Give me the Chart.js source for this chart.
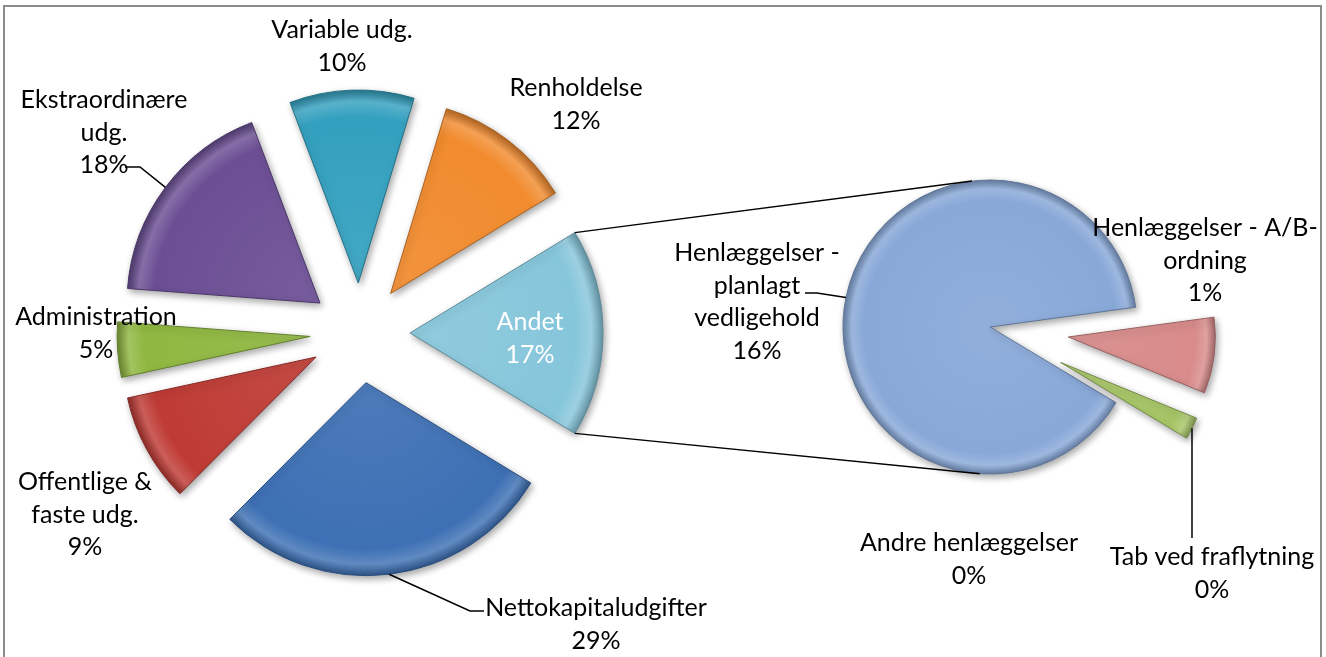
<!DOCTYPE html>
<html>
<head>
<meta charset="utf-8">
<script src="https://cdn.jsdelivr.net/npm/chart.js@4.4.1/dist/chart.umd.min.js"></script>
<style>
  html, body { margin: 0; padding: 0; background: #fff; }
  #wrap { position: relative; width: 1326px; height: 657px; }
  #wrap canvas { position: absolute; left: 0; top: 0; }
</style>
</head>
<body>
<div id="wrap">
  <canvas id="mainPie" width="1326" height="657"></canvas>
  <canvas id="subPie" width="1326" height="657"></canvas>
</div>
<script>
// Main pie (clockwise from the "Andet" slice, which is split out into the second pie)
const mainCategories = ['Andet', 'Nettokapitaludgifter', 'Offentlige & faste udg.', 'Administration',
  'Ekstraordinære udg.', 'Variable udg.', 'Renholdelse'];
const mainValues = [17.37, 28.7, 9.1, 4.6, 18.0, 10.4, 11.6];
const mainColors = ['#86C6DB', '#3D70B4', '#BF3B35', '#8FB740', '#6B4E94', '#33A0BF', '#F18B2E'];

// Second pie: breakdown of "Andet"
const subCategories = ['Henlæggelser - planlagt vedligehold', 'Henlæggelser - A/B-ordning',
  'Andre henlæggelser', 'Tab ved fraflytning'];
const subValues = [15.5, 1.45, 0, 0.42];
const subColors = ['#88A8D8', '#D88B8A', '#C2D69B', '#A6C566'];

const FONT = '25px Lato';
const LINE_H = 32.5;
const grandTotal = mainValues.reduce((a, b) => a + b, 0);

// label placement (text centre x, first line y, wrap width, colour)
const mainLabelLayout = [
  { x: 530, y: 322, w: 200, color: '#ffffff' },
  { x: 596, y: 608, w: 300, color: '#000', leader: [[470, 611], [484, 611]] },
  { x: 85, y: 482, w: 155, color: '#000' },
  { x: 96, y: 317, w: 230, color: '#000' },
  { x: 104, y: 100, w: 195, color: '#000', leader: [[140, 167], [125, 167]] },
  { x: 342, y: 30, w: 230, color: '#000' },
  { x: 576, y: 88, w: 230, color: '#000' }
];
const subLabelLayout = [
  { x: 757, y: 253, w: 175, color: '#000', leader: [[817, 293], [805, 293]] },
  { x: 1205, y: 228, w: 230, color: '#000' },
  { x: 969, y: 543, w: 270, color: '#000' },
  { x: 1212, y: 557, w: 270, color: '#000', leader: [[1192, 538]] }
];

function mix(hex, target, t) {
  const n = parseInt(hex.slice(1), 16);
  const c = [(n >> 16) & 255, (n >> 8) & 255, n & 255];
  const out = c.map(v => Math.round(v + (target - v) * t));
  return `rgb(${out[0]}, ${out[1]}, ${out[2]})`;
}

// moves each slice out along its middle angle, and gives it a bevel-like shading
const explodePlugin = {
  id: 'explode',
  afterDatasetUpdate(chart, args, opts) {
    const shift = opts.shift || [];
    const colors = chart.data.datasets[0].backgroundColor;
    const ctx = chart.ctx;
    args.meta.data.forEach((arc, i) => {
      const d = shift[i] || 0;
      const mid = (arc.startAngle + arc.endAngle) / 2;
      arc.x += Math.cos(mid) * d;
      arc.y += Math.sin(mid) * d;
      const base = colors[i];
      const g = ctx.createRadialGradient(arc.x, arc.y, 0, arc.x, arc.y, arc.outerRadius);
      g.addColorStop(0, mix(base, 255, 0.08));
      g.addColorStop(0.86, base);
      g.addColorStop(0.94, mix(base, 255, 0.18));
      g.addColorStop(1, mix(base, 0, 0.25));
      arc.options = Object.assign({}, arc.options, {
        backgroundColor: g,
        borderColor: mix(base, 0, 0.3)
      });
    });
  }
};

const shadowPlugin = {
  id: 'softShadow',
  beforeDatasetsDraw(chart) {
    const ctx = chart.ctx;
    ctx.save();
    ctx.shadowColor = 'rgba(0,0,0,0.35)';
    ctx.shadowBlur = 7;
    ctx.shadowOffsetX = 2;
    ctx.shadowOffsetY = 3;
  },
  afterDatasetsDraw(chart) {
    chart.ctx.restore();
  }
};

function wrapText(ctx, text, maxW) {
  const parts = [];
  const re = /([^\s-]*-(?=\S)|\S+)(\s*)/g;
  let m;
  while ((m = re.exec(text)) !== null) {
    parts.push({ t: m[1], sp: m[2] ? ' ' : '' });
  }
  const lines = [];
  let cur = '';
  let pending = '';
  parts.forEach(p => {
    const trial = cur ? cur + pending + p.t : p.t;
    if (cur && ctx.measureText(trial).width > maxW) {
      lines.push(cur);
      cur = p.t;
    } else {
      cur = trial;
    }
    pending = p.sp;
  });
  if (cur) lines.push(cur);
  return lines;
}

function drawLabels(chart, categories, values, layout) {
  const ctx = chart.ctx;
  const arcs = chart.getDatasetMeta(0).data;
  ctx.save();
  ctx.font = FONT;
  ctx.textAlign = 'center';
  ctx.textBaseline = 'middle';
  categories.forEach((name, i) => {
    const l = layout[i];
    if (l.leader) {
      const arc = arcs[i];
      const mid = (arc.startAngle + arc.endAngle) / 2;
      ctx.beginPath();
      ctx.moveTo(arc.x + Math.cos(mid) * arc.outerRadius, arc.y + Math.sin(mid) * arc.outerRadius);
      l.leader.forEach(p => ctx.lineTo(p[0], p[1]));
      ctx.strokeStyle = '#000';
      ctx.lineWidth = 1.5;
      ctx.stroke();
    }
    const lines = wrapText(ctx, name, l.w);
    lines.push(Math.round(values[i] / grandTotal * 100) + '%');
    ctx.fillStyle = l.color;
    lines.forEach((t, k) => ctx.fillText(t, l.x, l.y + k * LINE_H));
  });
  ctx.restore();
}

const frameAndLabels = {
  id: 'frameAndLabels',
  beforeDraw(chart) {
    const ctx = chart.ctx;
    ctx.save();
    ctx.strokeStyle = '#8C8C8C';
    ctx.lineWidth = 2;
    ctx.strokeRect(4, 6, 1317, 700);
    ctx.restore();
  },
  afterDraw(chart) {
    drawLabels(chart, mainCategories, mainValues, mainLabelLayout);
  }
};

const mainChart = new Chart(document.getElementById('mainPie'), {
  type: 'pie',
  data: {
    labels: mainCategories,
    datasets: [{
      data: mainValues,
      backgroundColor: mainColors,
      borderWidth: 1
    }]
  },
  options: {
    responsive: false,
    animation: false,
    events: [],
    devicePixelRatio: 1,
    radius: 193,
    rotation: 90 - mainValues[0] / grandTotal * 180,
    layout: { padding: { left: 0, right: 606, top: 9, bottom: 0 } },
    plugins: {
      legend: { display: false },
      tooltip: { enabled: false },
      explode: { shift: [50, 50, 50, 50, 50, 50, 50] }
    }
  },
  plugins: [explodePlugin, shadowPlugin, frameAndLabels]
});

// lines from the "Andet" slice to the second pie, then second pie labels
const subLabelsPlugin = {
  id: 'subLabels',
  afterDraw(chart) {
    const ctx = chart.ctx;
    const andet = mainChart.getDatasetMeta(0).data[0];
    const base = chart.getDatasetMeta(0).data[0];
    const R = andet.outerRadius;
    const r = base.outerRadius;
    const from = [andet.startAngle, andet.endAngle];
    const to = [-97 * Math.PI / 180, 94 * Math.PI / 180];
    ctx.save();
    ctx.strokeStyle = '#000';
    ctx.lineWidth = 1.5;
    for (let k = 0; k < 2; k++) {
      ctx.beginPath();
      ctx.moveTo(andet.x + Math.cos(from[k]) * R, andet.y + Math.sin(from[k]) * R);
      ctx.lineTo(base.x + Math.cos(to[k]) * r, base.y + Math.sin(to[k]) * r);
      ctx.stroke();
    }
    ctx.restore();
    drawLabels(chart, subCategories, subValues, subLabelLayout);
  }
};

const subChart = new Chart(document.getElementById('subPie'), {
  type: 'pie',
  data: {
    labels: subCategories,
    datasets: [{
      data: subValues,
      backgroundColor: subColors,
      borderWidth: 1
    }]
  },
  options: {
    responsive: false,
    animation: false,
    events: [],
    devicePixelRatio: 1,
    radius: 147,
    rotation: 121,
    layout: { padding: { left: 654, right: 0, top: 0, bottom: 3 } },
    plugins: {
      legend: { display: false },
      tooltip: { enabled: false },
      explode: { shift: [0, 79, 79, 79] }
    }
  },
  plugins: [explodePlugin, shadowPlugin, subLabelsPlugin]
});
</script>
</body>
</html>
